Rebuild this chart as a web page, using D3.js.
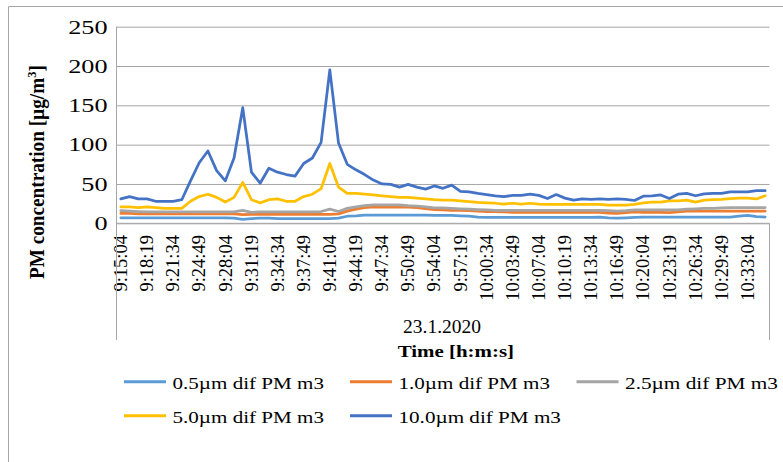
<!DOCTYPE html>
<html><head><meta charset="utf-8">
<script src="https://cdn.jsdelivr.net/npm/d3@7/dist/d3.min.js"></script>
<style>
body{margin:0;background:#fff}
svg{display:block}
</style>
</head><body>
<svg id="c" width="783" height="462"></svg>
<script>
const categories = ["9:15:04","9:16:09","9:17:14","9:18:19","9:19:24","9:20:29","9:21:34","9:22:39","9:23:44","9:24:49",
"9:25:54","9:26:59","9:28:04","9:29:09","9:30:14","9:31:19","9:32:24","9:33:29","9:34:34","9:35:39",
"9:36:44","9:37:49","9:38:54","9:39:59","9:41:04","9:42:09","9:43:14","9:44:19","9:45:24","9:46:29",
"9:47:34","9:48:39","9:49:44","9:50:49","9:51:54","9:52:59","9:54:04","9:55:09","9:56:14","9:57:19",
"9:58:24","9:59:29","10:00:34","10:01:39","10:02:44","10:03:49","10:04:54","10:05:59","10:07:04","10:08:09",
"10:09:14","10:10:19","10:11:24","10:12:29","10:13:34","10:14:39","10:15:44","10:16:49","10:17:54","10:18:59",
"10:20:04","10:21:09","10:22:14","10:23:19","10:24:24","10:25:29","10:26:34","10:27:39","10:28:44","10:29:49",
"10:30:54","10:31:59","10:33:04","10:34:09","10:35:14"];
const tickLabels = ["9:15:04","9:18:19","9:21:34","9:24:49","9:28:04","9:31:19","9:34:34","9:37:49","9:41:04","9:44:19",
"9:47:34","9:50:49","9:54:04","9:57:19","10:00:34","10:03:49","10:07:04","10:10:19","10:13:34","10:16:49",
"10:20:04","10:23:19","10:26:34","10:29:49","10:33:04"];
const yTicks = [0,50,100,150,200,250];
const dateLabel = "23.1.2020";
const xTitle = "Time [h:m:s]";

const pm05 = [7,7,7,7,7,7,7,7,7,7, 7,7,7,6.5,5,6,6.5,6.5,6,6, 6,6,6,6,6,6.5,9,9.5,10.5,10.5,
 10.5,10.5,10.5,10.5,10.5,10.5,10,10,10,9.5, 9,8,7.5,7.5,7.5,7.5,7.5,7.5,7.5,7.5,
 7.5,7.5,7.5,7.5,7.5,8,7,6.5,7,7.5, 8,8,8,8,8,8,8,8,8,8, 8,9,10,8.5,8];
const pm10 = [12.5,12.5,12,12,12,12,12,12,12,12, 12,12,12,12,11,11.5,11.5,11.5,11.5,11.5,
 11.5,11.5,11.5,11.5,11.5,12,15.5,18,20,21, 20.5,20.5,20.5,20.5,20,18.5,17.5,17,16.5,16.5,
 16,15.5,15,15,14.5,14,14,14,14,14, 14,14,14,14,14,14,13,12.5,13.5,14.5,
 14,14,14,13.5,14.5,15.5,15.5,15.5,15.5,15.5, 15.5,15.5,15.5,15.5,15.5];
const pm25 = [16,15.5,15,14.5,14.5,14.5,14.5,14.5,14.5,14.5, 14.5,14.5,14.5,14.5,16.5,14,14.5,14.5,14.5,14.5,
 14.5,14.5,14.5,15,18,15,19,21,22.5,23.5, 23.5,23.5,23.5,22.5,22,21,19.5,19.5,19,18.5,
 18,17.5,17,16.5,16.5,16.5,16.5,16.5,16.5,16.5, 16.5,16.5,16.5,16.5,16.5,16.5,16,15.5,16,17,
 17,17,17,17,17,18,18.5,19,19,19.5, 20,20,20,20,20];
const pm50 = [21,21,20,21,20,19,19,19,28,34, 37,33,27,33,52,30,26,30,31,28,
 28,34,37,44,76,46,38,38,37,36, 35,34,33,33,32,31,30,29.5,29.5,28.5,
 27.5,26.5,26,25.5,24.5,25.5,24.5,25.5,24.5,24, 24,24,24,24,24,24,23,23,23,24,
 26,27,27,28.5,28.5,29.5,27,29.5,30,30.5, 31.5,32,32,31,35];
const pm100 = [31,34,31,31,28,28,28,30,54,77, 92,67,54,83,147,65,51,70,65,62,
 60,76,83,103,195,102,75,68,62,55, 50,49.5,46,49.5,46,43.5,47.5,44.5,48.5,40.5,
 40,38,36.5,35,34,35.5,35.5,37,35.5,31.5, 36.5,32,29.5,31,30.5,31,30.5,31,30.5,29,
 34.5,35,36,31.5,37,38,35,37.5,38,38, 40,40,40,41.5,41.5];
const seriesNames = ["0.5µm dif PM m3","1.0µm dif PM m3","2.5µm dif PM m3","5.0µm dif PM m3","10.0µm dif PM m3"];
const seriesValues = [pm05, pm10, pm25, pm50, pm100];
const seriesColors = ["#5B9BD5","#ED7D31","#A5A5A5","#FFC000","#4472C4"];

const FONT = "'Liberation Serif'";
const svg = d3.select("#c");
const L = 116.5, R = 769.5, T = 26.7, B = 223.3, catBottom = 340;
const gridColor = "#a6a6a6";

const x = d3.scaleBand().domain(categories).range([L, R]).padding(0);
const y = d3.scaleLinear().domain([0, 250]).range([B, T]);
const cx = d => x(d) + x.bandwidth() / 2;

function fit(t, w) {
  const cw = t.node().getComputedTextLength();
  t.attr("transform", (t.attr("transform") || "") + ` scale(${w / cw},1)`);
}

// outer chart border
svg.append("path").attr("d", "M8.5,462 V6.5 H783").attr("fill", "none").attr("stroke", gridColor).attr("stroke-width", 1);

// y axis with gridlines
const gy = svg.append("g").attr("transform", `translate(${L},0)`)
  .call(d3.axisLeft(y).tickValues(yTicks).tickSize(-(R - L)).tickPadding(0));
gy.attr("font-family", null).attr("font-size", null);
gy.select(".domain").remove();
gy.selectAll(".tick line").attr("stroke", gridColor).attr("stroke-width", 1);
gy.selectAll(".tick text").each(function () {
  const t = d3.select(this);
  t.attr("x", 0).attr("dy", 0).attr("y", 6.3).attr("text-anchor", "end").attr("fill", "#000")
   .style("font-family", FONT).style("font-size", "19px").attr("transform", "translate(-9,0)");
  fit(t, t.node().getComputedTextLength() * 1.38);
});

// x (category) axis
const gx = svg.append("g").attr("transform", `translate(0,${B})`)
  .call(d3.axisBottom(x).tickValues(tickLabels).tickSize(0).tickPadding(0));
gx.attr("font-family", null).attr("font-size", null);
gx.select(".domain").remove();
gx.selectAll(".tick text")
  .attr("transform", "rotate(-90)").attr("text-anchor", "end").attr("fill", "#000")
  .attr("x", -11.7).attr("y", 6.2).attr("dy", 0)
  .style("font-family", FONT).style("font-size", "18.5px");

// axis lines
svg.append("line").attr("x1", L).attr("x2", L).attr("y1", T).attr("y2", catBottom).attr("stroke", gridColor);
svg.append("line").attr("x1", R).attr("x2", R).attr("y1", B).attr("y2", catBottom).attr("stroke", gridColor);
svg.append("line").attr("x1", L).attr("x2", R).attr("y1", B).attr("y2", B).attr("stroke", gridColor);

// series lines
const line = d3.line().x((d, i) => cx(categories[i])).y(d => y(d));
seriesValues.forEach((vals, s) => {
  svg.append("path").datum(vals).attr("d", line).attr("fill", "none")
    .attr("stroke", seriesColors[s]).attr("stroke-width", 2.75)
    .attr("stroke-linejoin", "round").attr("stroke-linecap", "round");
});

// y title
const yt = svg.append("text").attr("transform", "translate(43.5,279) rotate(-90)")
  .style("font-family", FONT).style("font-size", "20px").style("font-weight", "bold");
yt.append("tspan").text("PM concentration [µg/m");
yt.append("tspan").text("3").style("font-size", "13px").attr("dy", -8);
yt.append("tspan").text("]").attr("dy", 8);
fit(yt, 214);

// date & x title
const dt = svg.append("text").attr("transform", "translate(442,333.3)").attr("text-anchor", "middle")
  .style("font-family", FONT).style("font-size", "18px").text(dateLabel);
fit(dt, 78);
const xt = svg.append("text").attr("transform", "translate(455.8,356.5)").attr("text-anchor", "middle")
  .style("font-family", FONT).style("font-size", "16.5px").style("font-weight", "bold").text(xTitle);
fit(xt, 116.5);

// legend
const legendPos = [[124, 381.7], [350, 381.7], [576.5, 381.7], [124, 415.7], [350, 415.7]];
const legendW = [151.5, 151.5, 153, 151.5, 162.5];
seriesNames.forEach((name, i) => {
  const [lx, ly] = legendPos[i];
  svg.append("line").attr("x1", lx).attr("x2", lx + 42).attr("y1", ly).attr("y2", ly)
    .attr("stroke", seriesColors[i]).attr("stroke-width", 3);
  const t = svg.append("text").attr("transform", `translate(${lx + 48.5},${ly + 7.3})`)
    .style("font-family", FONT).style("font-size", "16px").text(name);
  fit(t, legendW[i]);
});
</script>
</body></html>
